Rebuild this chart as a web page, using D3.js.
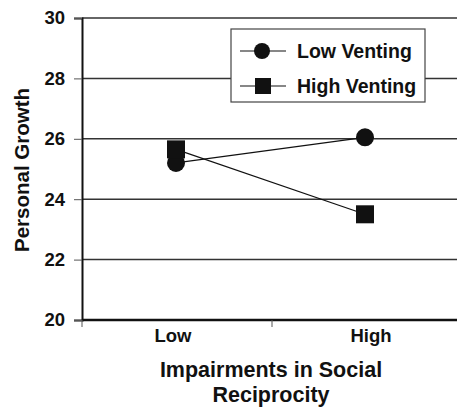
<!DOCTYPE html>
<html>
<head>
<meta charset="utf-8">
<script src="https://cdn.jsdelivr.net/npm/d3@7"></script>
<style>
body { margin: 0; background: #fff; }
text { font-family: "Liberation Sans", Arial, sans-serif; font-weight: bold; fill: #111; }
</style>
</head>
<body>
<script>
// chart data
var categories = ["Low", "High"]
var seriesNames = ["Low Venting", "High Venting"]
var lowVenting = [25.2, 26.05]
var highVenting = [25.65, 23.5]
var yTicks = [20, 22, 24, 26, 28, 30]

var W = 457, H = 408
var mLeft = 82, mRight = 462, mTop = 18, mBottom = 320

var svg = d3.select("body").append("svg").attr("width", W).attr("height", H)

var x = d3.scaleBand().domain(categories).range([mLeft, mRight])
var y = d3.scaleLinear().domain([20, 30]).range([mBottom, mTop])

// gridlines
svg.selectAll("line.grid")
    .data(yTicks.slice(1))
    .enter().append("line")
    .attr("class", "grid")
    .attr("x1", mLeft).attr("x2", W)
    .attr("y1", function(d){ return y(d) }).attr("y2", function(d){ return y(d) })
    .attr("stroke", "#333").attr("stroke-width", 1.5)

// y axis
var yAxis = svg.append("g").attr("transform", "translate(" + mLeft + ",0)")
    .call(d3.axisLeft(y).tickValues(yTicks).tickSize(8).tickPadding(9))
yAxis.select(".domain").attr("stroke", "#111").attr("stroke-width", 2)
yAxis.selectAll(".tick line").attr("stroke", "#555").attr("stroke-width", 1)
yAxis.selectAll("text").style("font-size", "18.5px").style("font-family", "Liberation Sans, Arial").style("font-weight", "bold").attr("fill", "#111")

// x axis
var xAxis = svg.append("g").attr("transform", "translate(0," + mBottom + ")")
    .call(d3.axisBottom(x).tickSize(0).tickPadding(9))
xAxis.select(".domain").attr("d", "M" + mLeft + ",0H" + W).attr("stroke", "#111").attr("stroke-width", 2.5)
xAxis.selectAll("text").style("font-size", "18.5px").style("font-family", "Liberation Sans, Arial").style("font-weight", "bold").attr("fill", "#111")
xAxis.selectAll(".tick text").attr("dx", function(d){ return d == "Low" ? -4 : 4 })
// category divider ticks
svg.selectAll("line.xtick")
    .data([mLeft, x("High")])
    .enter().append("line")
    .attr("x1", function(d){ return d }).attr("x2", function(d){ return d })
    .attr("y1", mBottom).attr("y2", mBottom + 7)
    .attr("stroke", "#555").attr("stroke-width", 1)

var cx = function(c){ return x(c) + x.bandwidth() / 2 + (c == "Low" ? -1 : -2) }
var line = d3.line().x(function(d){ return cx(d.c) }).y(function(d){ return y(d.v) })

var series = [lowVenting, highVenting].map(function(vals){
    return categories.map(function(c, i){ return {c: c, v: vals[i]} })
})

series.forEach(function(s){
    svg.append("path").datum(s).attr("d", line)
        .attr("fill", "none").attr("stroke", "#111").attr("stroke-width", 1.2)
})

// markers
svg.selectAll("circle.pt").data(series[0]).enter().append("circle")
    .attr("cx", function(d){ return cx(d.c) }).attr("cy", function(d){ return y(d.v) })
    .attr("r", 9).attr("fill", "#111")
svg.selectAll("rect.pt").data(series[1]).enter().append("rect")
    .attr("x", function(d){ return cx(d.c) - 9 }).attr("y", function(d){ return y(d.v) - 9 })
    .attr("width", 18).attr("height", 18).attr("fill", "#111")

// legend
var lg = svg.append("g")
lg.append("rect").attr("x", 231).attr("y", 29).attr("width", 194).attr("height", 73)
    .attr("fill", "#fff").attr("stroke", "#444").attr("stroke-width", 1.2)
seriesNames.forEach(function(name, i){
    var ly = 51 + i * 35
    lg.append("line").attr("x1", 240).attr("x2", 286).attr("y1", ly).attr("y2", ly)
        .attr("stroke", "#111").attr("stroke-width", 1.2)
    if (i == 0) lg.append("circle").attr("cx", 262).attr("cy", ly).attr("r", 8).attr("fill", "#111")
    else lg.append("rect").attr("x", 255).attr("y", ly - 8).attr("width", 16).attr("height", 16).attr("fill", "#111")
    lg.append("text").attr("x", 297).attr("y", ly).attr("dy", "0.36em")
        .style("font-size", "19.5px").text(name)
})

// axis titles
svg.append("text").attr("transform", "translate(29,170) rotate(-90)")
    .attr("text-anchor", "middle").style("font-size", "20.5px").text("Personal Growth")
svg.append("text").attr("x", 271).attr("y", 377).attr("text-anchor", "middle")
    .style("font-size", "21.5px").text("Impairments in Social")
svg.append("text").attr("x", 271).attr("y", 402).attr("text-anchor", "middle")
    .style("font-size", "21.5px").text("Reciprocity")
</script>
</body>
</html>
